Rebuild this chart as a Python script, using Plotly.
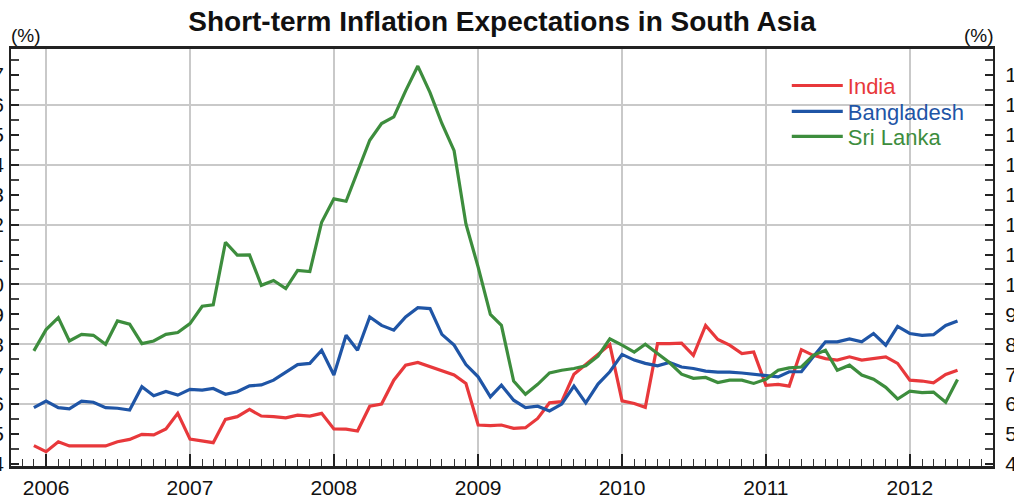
import pandas as pd
import plotly.graph_objects as go

# monthly observations, Dec 2005 - May 2012
months = pd.date_range("2005-12-01", "2012-05-01", freq="MS")

india = [
    4.61, 4.41, 4.74, 4.60, 4.60, 4.60, 4.60, 4.74, 4.82, 4.99,
    4.97, 5.17, 5.69, 4.83, 4.77, 4.71, 5.49, 5.58, 5.82, 5.60,
    5.58, 5.54, 5.63, 5.60, 5.69, 5.17, 5.16, 5.10, 5.93, 6.00,
    6.80, 7.30, 7.39, 7.24, 7.10, 6.97, 6.69, 5.30, 5.28, 5.30,
    5.19, 5.21, 5.52, 6.04, 6.08, 7.00, 7.32, 7.67, 7.99, 6.11,
    6.02, 5.89, 8.02, 8.02, 8.04, 7.63, 8.63, 8.16, 7.97, 7.69,
    7.74, 6.63, 6.66, 6.60, 7.82, 7.63, 7.52, 7.47, 7.58, 7.47,
    7.52, 7.58, 7.36, 6.80, 6.77, 6.71, 6.99, 7.13,
]
bangladesh = [
    5.88, 6.10, 5.88, 5.84, 6.10, 6.06, 5.88, 5.86, 5.80, 6.58,
    6.28, 6.42, 6.30, 6.49, 6.47, 6.52, 6.33, 6.41, 6.61, 6.64,
    6.80, 7.08, 7.32, 7.36, 7.80, 6.97, 8.30, 7.80, 8.91, 8.63,
    8.47, 8.91, 9.22, 9.19, 8.33, 7.97, 7.32, 6.91, 6.24, 6.63,
    6.13, 5.88, 5.93, 5.77, 6.00, 6.60, 6.04, 6.67, 7.08, 7.66,
    7.47, 7.36, 7.28, 7.39, 7.24, 7.19, 7.10, 7.07, 7.07, 7.04,
    7.00, 6.97, 6.91, 7.08, 7.08, 7.58, 8.08, 8.08, 8.18, 8.08,
    8.36, 7.97, 8.60, 8.36, 8.30, 8.32, 8.63, 8.78,
]
sri_lanka = [
    7.78, 8.49, 8.89, 8.11, 8.33, 8.30, 8.00, 8.78, 8.67, 8.02,
    8.11, 8.33, 8.39, 8.69, 9.27, 9.32, 11.41, 10.98, 10.99, 9.97,
    10.13, 9.86, 10.47, 10.43, 12.08, 12.86, 12.78, 13.78, 14.82, 15.38,
    15.60, 16.47, 17.30, 16.41, 15.38, 14.47, 12.02, 10.58, 9.00, 8.63,
    6.77, 6.33, 6.66, 7.04, 7.13, 7.19, 7.28, 7.60, 8.18, 7.97,
    7.74, 8.00, 7.69, 7.39, 7.00, 6.86, 6.89, 6.72, 6.80, 6.80,
    6.69, 6.83, 7.13, 7.21, 7.24, 7.63, 7.80, 7.13, 7.30, 6.97,
    6.83, 6.56, 6.17, 6.43, 6.38, 6.40, 6.06, 6.82,
]

y_ticks = list(range(4, 18))
grid_ticks = [6, 8, 10, 12, 14, 16]

series = [
    ("India", india, "#e8383b"),
    ("Bangladesh", bangladesh, "#1f55a6"),
    ("Sri Lanka", sri_lanka, "#3d8d3d"),
]

FONT = "Liberation Sans, Arial, sans-serif"
y_range = [3.93, 17.87]
x_range = ["2005-10-04", "2012-07-30"]

fig = go.Figure()
# empty traces so the right-hand axis and the grid-only axis get drawn
for ax in ("y2", "y3"):
    fig.add_trace(go.Scatter(x=[], y=[], yaxis=ax, showlegend=False, hoverinfo="skip"))

# one small legend per series so the rows can sit as close as in the original
legend_rows = [0.912, 0.850, 0.790]
legends = {}
for i, ((name, vals, color), ly) in enumerate(zip(series, legend_rows)):
    key = "legend" if i == 0 else f"legend{i + 1}"
    fig.add_trace(go.Scatter(
        x=months, y=vals, mode="lines", legend=key,
        name=f"<span style='color:{color}'>{name}</span>",
        line=dict(color=color, width=3.2),
    ))
    legends[key] = dict(
        x=0.790, y=ly, xanchor="left", yanchor="middle",
        bgcolor="rgba(0,0,0,0)", borderwidth=0, itemwidth=51,
        font=dict(family=FONT, size=22),
    )

axis_common = dict(
    range=y_range, tickvals=y_ticks, ticks="inside", ticklen=8,
    tickwidth=1.5, tickcolor="#222", showline=True, linecolor="#222",
    linewidth=2, showgrid=False, zeroline=False, automargin=False,
    ticklabeloverflow="allow",
    tickfont=dict(family=FONT, size=21, color="#111"),
    minor=dict(dtick=0.5, ticks="inside", ticklen=8, tickwidth=1.5, tickcolor="#444"),
)

fig.update_layout(
    width=1014, height=499,
    margin=dict(l=11, r=21, t=49, b=33),
    paper_bgcolor="white", plot_bgcolor="white",
    title=dict(
        text="<b>Short-term Inflation Expectations in South Asia</b>",
        x=0.5, xref="paper", y=0.957, yanchor="middle",
        font=dict(family=FONT, size=28, color="#111"),
    ),
    xaxis=dict(
        type="date", range=x_range, tick0="2006-01-01", dtick="M12",
        tickformat="%Y", ticks="inside", ticklen=12, tickwidth=1.5,
        tickcolor="#222", showline=True, linecolor="#222", linewidth=2.5,
        mirror=True, showgrid=True, gridcolor="#c9c9c9", gridwidth=1.5,
        zeroline=False, ticklabelstandoff=1, automargin=False,
        ticklabeloverflow="allow",
        tickfont=dict(family=FONT, size=21, color="#111"),
        minor=dict(dtick="M1", ticks="inside", ticklen=7, tickwidth=1.2, tickcolor="#333"),
    ),
    yaxis=dict(side="left", ticklabelstandoff=1, **axis_common),
    yaxis2=dict(overlaying="y", side="right", anchor="x", ticklabelstandoff=6, **axis_common),
    yaxis3=dict(
        overlaying="y", side="left", anchor="x", range=y_range,
        tickvals=grid_ticks, showticklabels=False, ticks="",
        showgrid=True, gridcolor="#c9c9c9", gridwidth=1.5,
        showline=False, zeroline=False, automargin=False,
    ),
    showlegend=True,
    annotations=[
        dict(text="(%)", xref="paper", yref="paper", x=0.0, y=1.0,
             xanchor="left", yanchor="bottom", yshift=1, xshift=-2, showarrow=False,
             font=dict(family=FONT, size=19, color="#111")),
        dict(text="(%)", xref="paper", yref="paper", x=1.0, y=1.0,
             xanchor="right", yanchor="bottom", yshift=1, xshift=3, showarrow=False,
             font=dict(family=FONT, size=19, color="#111")),
    ],
    **legends,
)

# drop the default 8px page margin so the figure sits at the window corner
fig.write_html(
    "out.html",
    config={"displayModeBar": False},
    post_script="document.body.style.margin='0px';",
)
